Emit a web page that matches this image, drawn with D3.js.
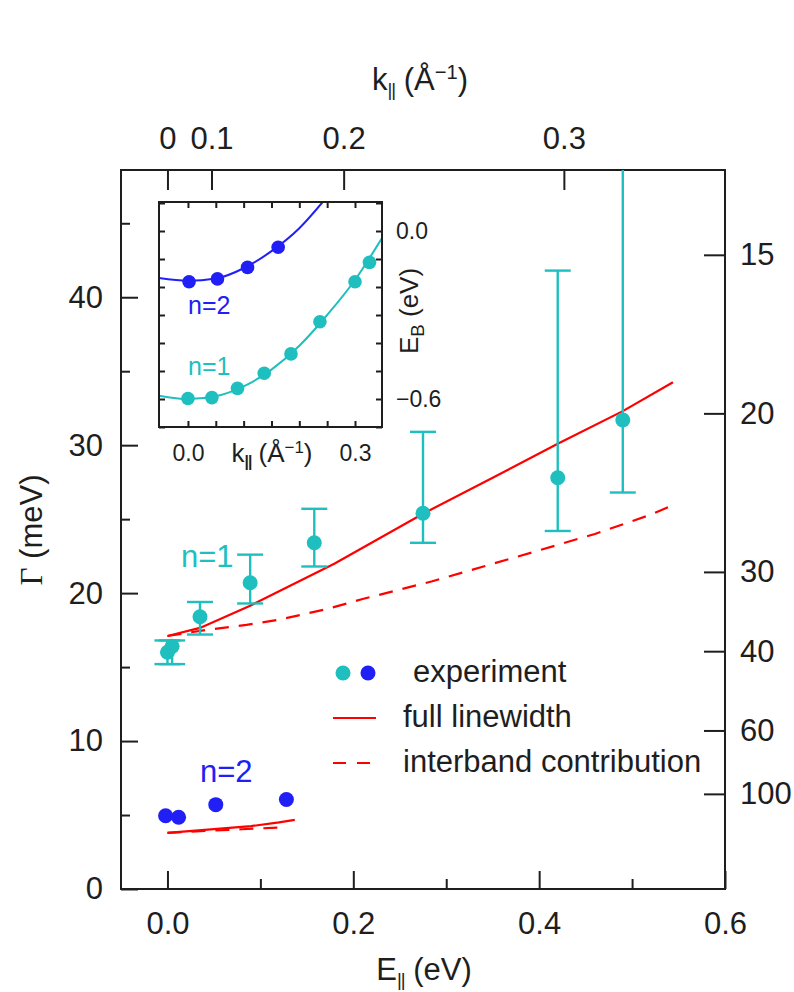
<!DOCTYPE html>
<html><head><meta charset="utf-8">
<script src="https://cdn.jsdelivr.net/npm/d3@7"></script>
<style>
body{margin:0;background:#fff}
svg{display:block}
text{font-family:"Liberation Sans",Arial,Helvetica,sans-serif;}
</style>
</head><body>
<svg id="c" width="794" height="992"></svg>
<script>
// ---------------- data ----------------
// main panel: n=1 experiment (cyan) with asymmetric error bars
const n1E  = [0.000, 0.005, 0.035, 0.089, 0.158, 0.275, 0.420, 0.490];
const n1G  = [16.0, 16.4, 18.4, 20.7, 23.4, 25.4, 27.8, 31.7];
const n1Lo = [15.2, 15.2, 17.2, 19.3, 21.8, 23.4, 24.2, 26.8];
const n1Hi = [16.8, 16.8, 19.4, 22.6, 25.7, 30.9, 41.8, 60.0];
// n=2 experiment (blue)
const n2E = [-0.002, 0.012, 0.052, 0.128];
const n2G = [4.95, 4.85, 5.7, 6.05];
// theory n=1
const fullE1  = [0, 0.035, 0.089, 0.18, 0.276, 0.35, 0.42, 0.49, 0.544];
const fullG1  = [17.1, 17.65, 19.15, 22.0, 25.4, 27.8, 30.1, 32.3, 34.25];
const interE1 = [0, 0.035, 0.085, 0.12, 0.17, 0.21, 0.285, 0.34, 0.395, 0.46, 0.52, 0.544];
const interG1 = [17.1, 17.45, 17.85, 18.2, 18.9, 19.6, 20.8, 21.8, 22.8, 24.0, 25.3, 25.95];
// theory n=2
const fullE2  = [0, 0.03, 0.06, 0.09, 0.12, 0.137];
const fullG2  = [3.8, 3.95, 4.1, 4.25, 4.5, 4.67];
const interE2 = [0, 0.04, 0.08, 0.126];
const interG2 = [3.8, 3.92, 4.04, 4.17];
// ticks
const yMajor = [0, 10, 20, 30, 40];
const yMinor = [5, 15, 25, 35, 45];
const xMajor = [0.0, 0.2, 0.4, 0.6];
const xMinor = [0.1, 0.3, 0.5];
const kTicks = [0, 0.1, 0.2, 0.3];
const kToE = 4.74;            // E = kToE * k^2  (eV, k in 1/Å)
const tauTicks = [15, 20, 30, 40, 60, 100];
const hbarC = 643;            // Γ(meV) = hbarC / τ
// inset: dispersion
const inK1 = [0.000, 0.043, 0.089, 0.137, 0.185, 0.237, 0.300, 0.326];
const inE1 = [-0.598, -0.595, -0.562, -0.508, -0.439, -0.324, -0.181, -0.112];
const inK2 = [0.002, 0.053, 0.107, 0.162];
const inE2 = [-0.181, -0.171, -0.130, -0.058];
const cK1 = [-0.052, 0, 0.05, 0.1, 0.15, 0.2, 0.25, 0.3, 0.3485];
const cE1 = [-0.588, -0.600, -0.590, -0.555, -0.495, -0.410, -0.300, -0.175, -0.025];
const cK2 = [-0.052, 0, 0.05, 0.1, 0.15, 0.2, 0.242];
const cE2 = [-0.168, -0.178, -0.170, -0.133, -0.072, 0.010, 0.1036];
const inXTicks = [0, 0.05, 0.1, 0.15, 0.2, 0.25, 0.3];
const inYTicks = [-0.7, -0.6, -0.5, -0.4, -0.3, -0.2, -0.1, 0.0, 0.1];
const inXLabels = [0.0, 0.3];
const inYLabels = [0.0, -0.6];

// ---------------- styles ----------------
const FS = 31, FSI = 23;
const CYAN = "#1fbfbf", BLUE = "#2020f6", RED = "#ff0000", INK = "#1e1e1e";

const svg = d3.select("#c");
const x = d3.scaleLinear().domain([-0.05, 0.6]).range([121, 725]);
const y = d3.scaleLinear().domain([0, 48.6]).range([889, 170]);

const defs = svg.append("defs");
defs.append("clipPath").attr("id", "mainclip").append("rect")
  .attr("x", x.range()[0]).attr("y", y.range()[1])
  .attr("width", x.range()[1] - x.range()[0]).attr("height", y.range()[0] - y.range()[1]);

function styleAxis(g, fs) {
  g.select(".domain").remove();
  g.attr("font-size", fs).attr("color", INK);
  g.selectAll("line").attr("stroke-width", 2);
  g.selectAll("text").attr("fill", INK);
}

// main axes
svg.append("g").attr("transform", `translate(${x.range()[0]},0)`)
  .call(d3.axisLeft(y).tickValues(yMajor).tickSize(-17).tickPadding(18).tickFormat(d3.format("d")))
  .call(g => styleAxis(g, FS));
svg.append("g").attr("transform", `translate(${x.range()[0]},0)`)
  .call(d3.axisLeft(y).tickValues(yMinor).tickSize(-9).tickFormat(""))
  .call(g => styleAxis(g, FS));
svg.append("g").attr("transform", `translate(0,${y.range()[0]})`)
  .call(d3.axisBottom(x).tickValues(xMajor).tickSize(-18).tickPadding(23).tickFormat(d3.format(".1f")))
  .call(g => styleAxis(g, FS));
svg.append("g").attr("transform", `translate(0,${y.range()[0]})`)
  .call(d3.axisBottom(x).tickValues(xMinor).tickSize(-10).tickFormat(""))
  .call(g => styleAxis(g, FS));

const kScale = d3.scalePow().exponent(2).domain([0, 0.3]).range([x(0), x(kToE * 0.09)]);
svg.append("g").attr("transform", `translate(0,${y.range()[1]})`)
  .call(d3.axisTop(kScale).tickValues(kTicks).tickSize(-20).tickPadding(21)
    .tickFormat(d => d === 0 ? "0" : d3.format(".1f")(d)))
  .call(g => styleAxis(g, FS));

const tauScale = d3.scalePow().exponent(-1).domain([15, 100]).range([y(hbarC / 15), y(hbarC / 100)]);
svg.append("g").attr("transform", `translate(${x.range()[1]},0)`)
  .call(d3.axisRight(tauScale).tickValues(tauTicks).tickSize(-21).tickPadding(15).tickFormat(d3.format("d")))
  .call(g => styleAxis(g, FS));

// frame
svg.append("rect").attr("x", x.range()[0]).attr("y", y.range()[1])
  .attr("width", x.range()[1] - x.range()[0]).attr("height", y.range()[0] - y.range()[1])
  .attr("fill", "none").attr("stroke", INK).attr("stroke-width", 2);

// axis titles
const yt = svg.append("text").attr("transform", "translate(42,530) rotate(-90)")
  .attr("text-anchor", "middle").attr("font-size", FS).attr("fill", INK);
yt.append("tspan").attr("font-family", "'Liberation Serif','Times New Roman',serif").text("Γ");
yt.append("tspan").text(" (meV)");

const xt = svg.append("text").attr("x", 424).attr("y", 980)
  .attr("text-anchor", "middle").attr("font-size", FS).attr("fill", INK);
xt.append("tspan").text("E");
xt.append("tspan").attr("font-size", "0.6em").attr("dy", "0.3em").attr("letter-spacing", "-1").text("||");
xt.append("tspan").attr("dy", "-0.18em").text(" (eV)");

const kt = svg.append("text").attr("x", 420).attr("y", 90)
  .attr("text-anchor", "middle").attr("font-size", FS).attr("fill", INK);
kt.append("tspan").text("k");
kt.append("tspan").attr("font-size", "0.6em").attr("dy", "0.3em").attr("letter-spacing", "-1").text("||");
kt.append("tspan").attr("dy", "-0.18em").text(" (Å");
kt.append("tspan").attr("font-size", "0.65em").attr("dy", "-0.55em").text("−1");
kt.append("tspan").attr("dy", "0.36em").text(")");

// plot content (clipped)
const plot = svg.append("g").attr("clip-path", "url(#mainclip)");
const line = d3.line().x(d => x(d[0])).y(d => y(d[1]));

plot.append("path").datum(d3.zip(fullE1, fullG1)).attr("d", line)
  .attr("fill", "none").attr("stroke", RED).attr("stroke-width", 2.2);
plot.append("path").datum(d3.zip(interE1, interG1)).attr("d", line)
  .attr("fill", "none").attr("stroke", RED).attr("stroke-width", 2.2).attr("stroke-dasharray", "14,10");
plot.append("path").datum(d3.zip(fullE2, fullG2)).attr("d", line)
  .attr("fill", "none").attr("stroke", RED).attr("stroke-width", 2.2);
plot.append("path").datum(d3.zip(interE2, interG2)).attr("d", line)
  .attr("fill", "none").attr("stroke", RED).attr("stroke-width", 2.2).attr("stroke-dasharray", "14,10");

// error bars
const capW = 13;
const eb = plot.append("g").attr("stroke", CYAN).attr("stroke-width", 2.4);
n1E.forEach((e, i) => {
  eb.append("line").attr("x1", x(e)).attr("x2", x(e)).attr("y1", y(n1Lo[i])).attr("y2", y(n1Hi[i]));
  [n1Lo[i], n1Hi[i]].forEach(v => {
    eb.append("line").attr("x1", x(e) - capW).attr("x2", x(e) + capW).attr("y1", y(v)).attr("y2", y(v));
  });
});
plot.append("g").selectAll("circle").data(d3.zip(n1E, n1G)).join("circle")
  .attr("cx", d => x(d[0])).attr("cy", d => y(d[1])).attr("r", 7.5).attr("fill", CYAN);
plot.append("g").selectAll("circle").data(d3.zip(n2E, n2G)).join("circle")
  .attr("cx", d => x(d[0])).attr("cy", d => y(d[1])).attr("r", 7.5).attr("fill", BLUE);

svg.append("text").attr("x", 181).attr("y", 567).attr("font-size", FS).attr("fill", CYAN).text("n=1");
svg.append("text").attr("x", 200).attr("y", 782).attr("font-size", FS).attr("fill", BLUE).text("n=2");

// legend
const lg = svg.append("g");
lg.append("circle").attr("cx", 343).attr("cy", 673).attr("r", 7.5).attr("fill", CYAN);
lg.append("circle").attr("cx", 368).attr("cy", 673).attr("r", 7.5).attr("fill", BLUE);
lg.append("text").attr("x", 413).attr("y", 682).attr("font-size", FS).attr("fill", INK).text("experiment");
lg.append("line").attr("x1", 333).attr("x2", 376).attr("y1", 718).attr("y2", 718)
  .attr("stroke", RED).attr("stroke-width", 2.2);
lg.append("text").attr("x", 403).attr("y", 727).attr("font-size", FS).attr("fill", INK).text("full linewidth");
lg.append("line").attr("x1", 333).attr("x2", 373).attr("y1", 763).attr("y2", 763)
  .attr("stroke", RED).attr("stroke-width", 2.2).attr("stroke-dasharray", "13,11");
lg.append("text").attr("x", 403).attr("y", 772).attr("font-size", FS).attr("fill", INK).text("interband contribution");

// ---------------- inset ----------------
const xi = d3.scaleLinear().domain([-0.052, 0.3485]).range([159, 382]);
const yi = d3.scaleLinear().domain([-0.70, 0.1036]).range([427, 202]);
defs.append("clipPath").attr("id", "inclip").append("rect")
  .attr("x", xi.range()[0]).attr("y", yi.range()[1])
  .attr("width", xi.range()[1] - xi.range()[0]).attr("height", yi.range()[0] - yi.range()[1]);

svg.append("rect").attr("x", xi.range()[0]).attr("y", yi.range()[1])
  .attr("width", xi.range()[1] - xi.range()[0]).attr("height", yi.range()[0] - yi.range()[1])
  .attr("fill", "#fff");

const fmt1 = d3.format(".1f");
svg.append("g").attr("transform", `translate(${xi.range()[0]},0)`)
  .call(d3.axisLeft(yi).tickValues(inYTicks).tickSize(-6).tickFormat(""))
  .call(g => styleAxis(g, FSI));
svg.append("g").attr("transform", `translate(${xi.range()[1]},0)`)
  .call(d3.axisRight(yi).tickValues(inYTicks).tickSize(-6).tickPadding(14)
    .tickFormat(d => inYLabels.some(v => Math.abs(v - d) < 1e-9) ? fmt1(d) : ""))
  .call(g => styleAxis(g, FSI));
svg.append("g").attr("transform", `translate(0,${yi.range()[0]})`)
  .call(d3.axisBottom(xi).tickValues(inXTicks).tickSize(-6).tickPadding(18)
    .tickFormat(d => inXLabels.some(v => Math.abs(v - d) < 1e-9) ? fmt1(d) : ""))
  .call(g => styleAxis(g, FSI));
svg.append("g").attr("transform", `translate(0,${yi.range()[1]})`)
  .call(d3.axisTop(xi).tickValues(inXTicks).tickSize(-6).tickFormat(""))
  .call(g => styleAxis(g, FSI));

const ip = svg.append("g").attr("clip-path", "url(#inclip)");
const iline = d3.line().x(d => xi(d[0])).y(d => yi(d[1])).curve(d3.curveMonotoneX);
ip.append("path").datum(d3.zip(cK2, cE2)).attr("d", iline)
  .attr("fill", "none").attr("stroke", BLUE).attr("stroke-width", 2);
ip.append("path").datum(d3.zip(cK1, cE1)).attr("d", iline)
  .attr("fill", "none").attr("stroke", CYAN).attr("stroke-width", 2);
ip.append("g").selectAll("circle").data(d3.zip(inK2, inE2)).join("circle")
  .attr("cx", d => xi(d[0])).attr("cy", d => yi(d[1])).attr("r", 6.8).attr("fill", BLUE);
ip.append("g").selectAll("circle").data(d3.zip(inK1, inE1)).join("circle")
  .attr("cx", d => xi(d[0])).attr("cy", d => yi(d[1])).attr("r", 6.8).attr("fill", CYAN);

svg.append("rect").attr("x", xi.range()[0]).attr("y", yi.range()[1])
  .attr("width", xi.range()[1] - xi.range()[0]).attr("height", yi.range()[0] - yi.range()[1])
  .attr("fill", "none").attr("stroke", INK).attr("stroke-width", 2);

svg.append("text").attr("x", 188).attr("y", 314).attr("font-size", FSI + 2).attr("fill", BLUE).text("n=2");
svg.append("text").attr("x", 188).attr("y", 375).attr("font-size", FSI + 2).attr("fill", CYAN).text("n=1");

const eb2 = svg.append("text").attr("transform", "translate(418,311) rotate(-90)")
  .attr("text-anchor", "middle").attr("font-size", FSI + 3).attr("fill", INK);
eb2.append("tspan").text("E");
eb2.append("tspan").attr("font-size", "0.72em").attr("dy", "0.3em").text("B");
eb2.append("tspan").attr("dy", "-0.2em").text(" (eV)");

const ik = svg.append("text").attr("x", 272).attr("y", 462)
  .attr("text-anchor", "middle").attr("font-size", FSI + 3).attr("fill", INK);
ik.append("tspan").text("k");
ik.append("tspan").attr("font-size", "0.6em").attr("dy", "0.3em").attr("letter-spacing", "-1").attr("font-weight", "bold").text("||");
ik.append("tspan").attr("dy", "-0.18em").text(" (Å");
ik.append("tspan").attr("font-size", "0.65em").attr("dy", "-0.55em").text("−1");
ik.append("tspan").attr("dy", "0.36em").text(")");
</script>
</body></html>
